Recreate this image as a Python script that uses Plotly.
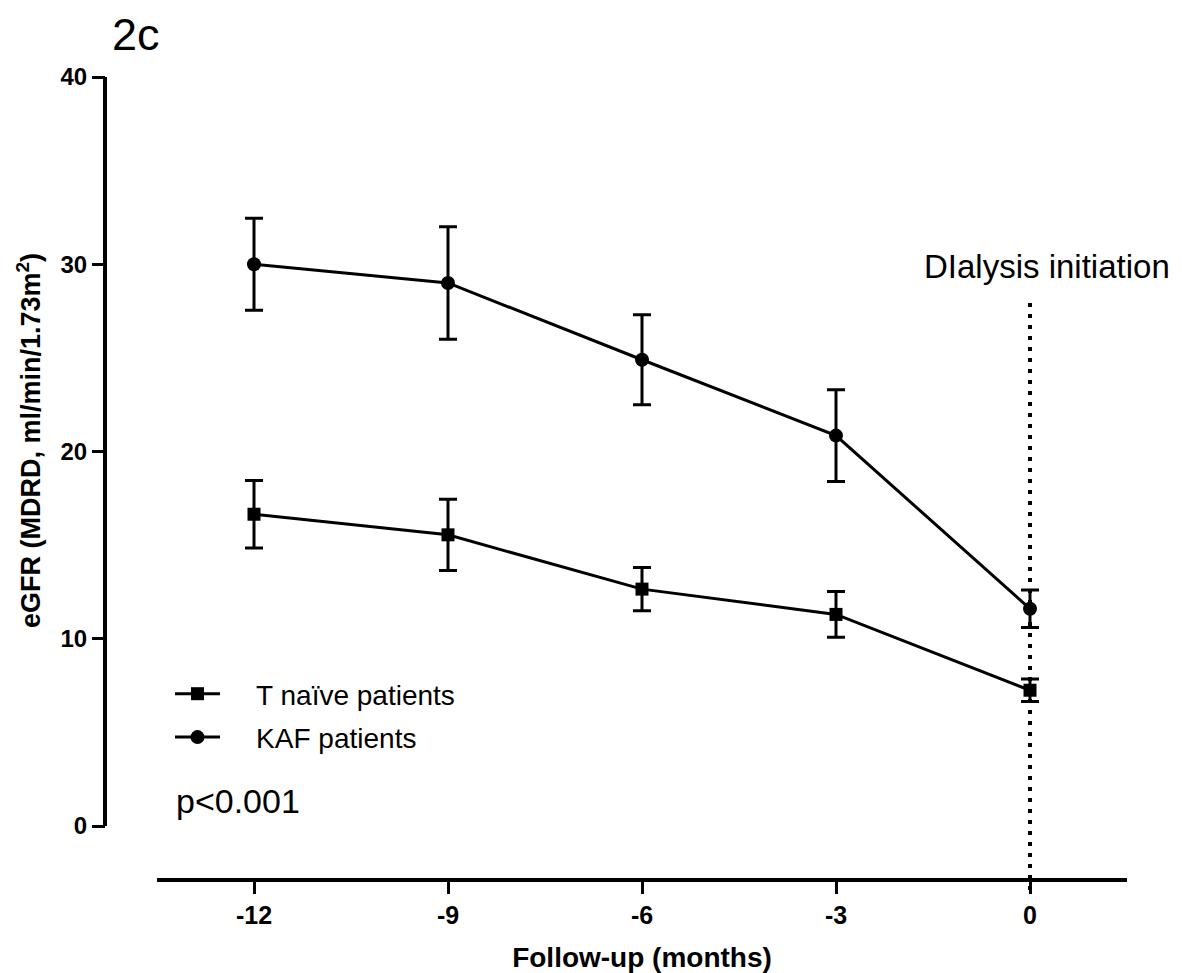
import plotly.graph_objects as go

months = [-12, -9, -6, -3, 0]
kaf_mean = [30.0, 29.0, 24.9, 20.85, 11.6]
kaf_err = [2.45, 3.0, 2.4, 2.45, 1.0]
tnaive_mean = [16.65, 15.55, 12.65, 11.3, 7.25]
tnaive_err = [1.8, 1.9, 1.15, 1.22, 0.6]
x_ticks = [-12, -9, -6, -3, 0]
x_labels = ["-12", "-9", "-6", "-3", "0"]
y_ticks = [0, 10, 20, 30, 40]
series_names = ["T naïve patients", "KAF patients"]

FONT = "Arial, Liberation Sans, sans-serif"
# page body has an 8px margin, so the figure is slightly smaller than the window
W, H = 1174, 965
L, R, T, B = 97, 55, 69, 95
plot_w = W - L - R
plot_h = H - T - B
x_dom0 = 52 / plot_w
Y_MIN = -2.777
PAD = "\u00a0" * 4  # gap between legend symbol and label


def px_x(p):  # figure pixel -> paper x
    return (p - L) / plot_w


def px_y(p):  # figure pixel -> paper y
    return (H - B - p) / plot_h


fig = go.Figure()
fig.add_trace(go.Scatter(
    x=months, y=tnaive_mean, mode="lines+markers", name=PAD + series_names[0],
    legendgroup="a",
    line=dict(color="black", width=3),
    marker=dict(symbol="square", size=13, color="black"),
    error_y=dict(type="data", array=tnaive_err, visible=True, color="black", thickness=3, width=9),
))
fig.add_trace(go.Scatter(
    x=months, y=kaf_mean, mode="lines+markers", name=PAD + series_names[1],
    legendgroup="b",
    line=dict(color="black", width=3),
    marker=dict(symbol="circle", size=14, color="black"),
    error_y=dict(type="data", array=kaf_err, visible=True, color="black", thickness=3, width=9),
))

fig.update_layout(
    width=W, height=H,
    margin=dict(l=L, r=R, t=T, b=B, autoexpand=False),
    plot_bgcolor="white", paper_bgcolor="white",
    font=dict(family=FONT, color="black"),
    showlegend=True,
    legend=dict(x=px_x(162), y=px_y(661), xanchor="left", yanchor="top",
                font=dict(size=28, family=FONT), bgcolor="rgba(0,0,0,0)",
                tracegroupgap=4, itemwidth=45),
    xaxis=dict(domain=[x_dom0, 1], range=[-13.5, 1.5], tickvals=x_ticks, ticktext=x_labels,
               showline=True, linecolor="black", linewidth=4,
               ticks="outside", ticklen=12, tickwidth=3, tickcolor="black",
               showgrid=False, zeroline=False,
               tickfont=dict(size=25, family=FONT, weight="bold"),
               title=dict(text="<b>Follow-up (months)</b>", font=dict(size=28, family=FONT), standoff=26)),
    yaxis=dict(anchor="free", position=0, range=[Y_MIN, 40], tickvals=y_ticks,
               showline=False, ticks="outside", ticklen=13, tickwidth=3, tickcolor="black",
               showgrid=False, zeroline=False,
               tickfont=dict(size=24, family=FONT, weight="bold")),
)

# y axis line only from 0 to 40
fig.add_shape(type="line", xref="paper", yref="y", x0=0, x1=0,
              y0=0, y1=40, line=dict(color="black", width=4))
# dialysis initiation dotted line
fig.add_shape(type="line", xref="x", yref="paper", x0=months[-1], x1=months[-1],
              y0=px_y(295), y1=px_y(885),
              line=dict(color="black", width=4, dash="4px,7px"))

fig.add_annotation(text="<b>eGFR (MDRD, ml/min/1.73m<sup>2</sup>)</b>", textangle=-90,
                   xref="paper", yref="paper", x=px_x(21), y=px_y(433), xanchor="center", yanchor="middle",
                   showarrow=False, font=dict(size=27, family=FONT))
fig.add_annotation(text="2c", xref="paper", yref="paper", x=px_x(102), y=px_y(26),
                   xanchor="left", yanchor="middle", showarrow=False, font=dict(size=45, family=FONT))
fig.add_annotation(text="DIalysis initiation", xref="paper", yref="paper", x=px_x(1039), y=px_y(258),
                   xanchor="center", yanchor="middle", showarrow=False, font=dict(size=33, family=FONT))
fig.add_annotation(text="p<0.001", xref="paper", yref="paper", x=px_x(166), y=px_y(793),
                   xanchor="left", yanchor="middle", showarrow=False, font=dict(size=34, family=FONT))

fig.write_html("out.html")
